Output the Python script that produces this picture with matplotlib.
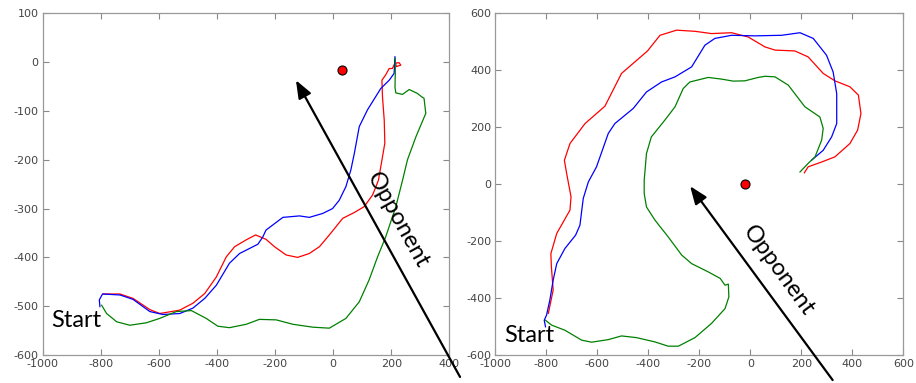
import matplotlib
matplotlib.use("Agg")
import matplotlib.pyplot as plt
import numpy as np

plt.rcParams["axes.unicode_minus"] = False

# ---------------------------------------------------------------------------
# Trajectories (x, y)
# ---------------------------------------------------------------------------

# left panel
left_red_x = [-792, -734, -689, -631, -597, -528, -483, -442, -402, -368, -339, -299, -267,
              -231, -202, -162, -122, -82, -47, -13, 33, 73, 107, 136, 156, 170, 178, 176,
              170, 168, 181, 193, 204, 213, 227, 233, 218, 212]
left_red_y = [-475, -475, -484, -507, -515, -508, -494, -474, -440, -399, -378, -364, -354,
              -363, -378, -395, -400, -392, -378, -354, -320, -308, -296, -272, -242, -194,
              -166, -119, -71, -37, -26, -13, -13, -2, -1, -6, -9, 4]

left_blue_x = [-803, -805, -794, -734, -689, -631, -586, -528, -483, -442, -402, -357, -322,
               -259, -242, -231, -173, -116, -82, -36, -2, 21, 44, 61, 73, 90, 118, 164, 193,
               210, 213]
left_blue_y = [-501, -487, -475, -477, -486, -511, -517, -515, -504, -484, -457, -412, -392,
               -373, -358, -344, -318, -315, -318, -310, -300, -283, -255, -221, -187, -132,
               -98, -54, -37, -23, 11]

left_green_x = [-797, -780, -745, -700, -643, -597, -540, -488, -437, -397, -357, -299, -254,
                -196, -139, -70, -13, 44, 90, 124, 153, 181, 216, 239, 256, 285, 319, 313,
                305, 290, 262, 239, 216, 213, 214, 214]
left_green_y = [-498, -515, -532, -539, -534, -525, -511, -509, -525, -541, -544, -537, -527,
                -528, -537, -543, -545, -525, -491, -446, -399, -358, -296, -242, -200, -153,
                -105, -74, -71, -64, -56, -66, -63, -52, -23, 8]

# right panel
right_red_x = [-792, -773, -780, -782, -759, -707, -703, -720, -729, -707, -648, -570, -505,
               -452, -403, -354, -289, -217, -152, -73, -8, 58, 97, 175, 227, 286, 332, 391,
               424, 434, 421, 391, 332, 280, 227, 212]
right_red_y = [-454, -372, -290, -244, -173, -91, -44, 37, 84, 143, 213, 274, 389, 430, 468,
               523, 541, 537, 529, 532, 517, 482, 471, 468, 447, 389, 363, 342, 313, 248, 190,
               143, 96, 78, 61, 40]

right_blue_x = [-803, -808, -799, -786, -773, -759, -727, -685, -668, -655, -635, -603, -557,
                -531, -459, -407, -348, -295, -230, -178, -139, -73, 18, 123, 195, 247, 299,
                325, 339, 339, 319, 286, 240]
right_blue_y = [-501, -478, -460, -407, -337, -279, -226, -179, -144, -50, 8, 61, 178, 213,
                266, 324, 359, 377, 412, 488, 512, 523, 521, 523, 532, 512, 453, 394, 318,
                213, 166, 119, 84]

right_green_x = [-803, -779, -727, -661, -622, -557, -505, -446, -374, -322, -282, -217, -152,
                 -99, -84, -86, -99, -118, -165, -230, -269, -322, -374, -407, -416, -416,
                 -407, -388, -335, -295, -263, -237, -165, -112, -67, -21, 31, 58, 97, 149,
                 214, 273, 286, 280, 254, 227, 195]
right_green_y = [-478, -495, -513, -548, -555, -546, -533, -539, -554, -569, -569, -539, -489,
                 -437, -396, -351, -355, -331, -308, -279, -249, -185, -126, -80, -33, 14, 108,
                 166, 225, 272, 336, 359, 375, 369, 362, 363, 375, 379, 377, 348, 272, 236,
                 196, 155, 96, 73, 43]

# opponent positions (red dots) and arrows (tail -> tip)
left_dot = (30, -17)
right_dot = (-20, 0)
left_arrow = ((437, -645), (-128, -37))
right_arrow = ((323, -688), (-236, -7))


def style_axes(ax, xlim, ylim, xticks, yticks):
    ax.set_xlim(*xlim)
    ax.set_ylim(*ylim)
    ax.set_xticks(xticks)
    ax.set_yticks(yticks)
    ax.tick_params(direction="in", length=4, width=0.8, color="#888888",
                   labelsize=8, labelcolor="#444444", top=True, right=True, pad=3)
    for s in ax.spines.values():
        s.set_color("#999999")
        s.set_linewidth(0.9)


def draw_panel(ax, red, blue, green, dot, arrow, opp_xy, opp_rot, start_xy):
    ax.plot(*red, color="#ff0000", lw=0.9)
    ax.plot(*blue, color="#0000ff", lw=0.9)
    ax.plot(*green, color="#008000", lw=0.9)
    ax.plot(*dot, "o", color="#ff0000", mec="black", mew=0.8, ms=6.5, zorder=5)
    ax.annotate("", xy=arrow[1], xytext=arrow[0], annotation_clip=False,
                arrowprops=dict(arrowstyle="-|>,head_length=0.9,head_width=0.35",
                                color="black", lw=1.6, shrinkA=0, shrinkB=0,
                                mutation_scale=12))
    ax.text(*opp_xy, "Opponent", rotation=opp_rot, rotation_mode="anchor",
            ha="center", va="center", fontsize=17, family="Lato")
    ax.text(*start_xy, "Start", ha="left", va="center", fontsize=17, family="Lato")


fig = plt.figure(figsize=(9.16, 3.83), dpi=100)
ax1 = fig.add_axes([0.0466, 0.0731, 0.4439, 0.892])
ax2 = fig.add_axes([0.5407, 0.0731, 0.4454, 0.892])

style_axes(ax1, (-1000, 400), (-600, 100), range(-1000, 401, 200), range(-600, 101, 100))
style_axes(ax2, (-1000, 600), (-600, 600), range(-1000, 601, 200), range(-600, 601, 200))

draw_panel(ax1, (left_red_x, left_red_y), (left_blue_x, left_blue_y),
           (left_green_x, left_green_y), left_dot, left_arrow,
           (223, -323), -61, (-972, -530))
draw_panel(ax2, (right_red_x, right_red_y), (right_blue_x, right_blue_y),
           (right_green_x, right_green_y), right_dot, right_arrow,
           (112, -302), -54, (-965, -532))

fig.savefig("out.png", dpi=100)
